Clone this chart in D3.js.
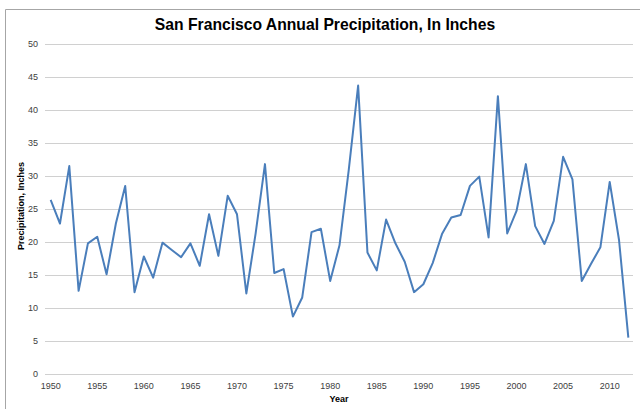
<!DOCTYPE html>
<html><head><meta charset="utf-8">
<script src="https://cdn.jsdelivr.net/npm/d3@7"></script>
<style>html,body{margin:0;padding:0;background:#fff;}svg{display:block;}</style>
</head><body>
<svg id="chart" width="640" height="409"></svg>
<script>
const years = d3.range(1950, 2013);
const precipitation = [
  26.4, 22.8, 31.5, 12.6, 19.8, 20.8, 15.1, 22.8, 28.5, 12.4,
  17.8, 14.6, 19.9, 18.8, 17.7, 19.8, 16.4, 24.2, 17.9, 27.0,
  24.2, 12.2, 21.3, 31.8, 15.3, 15.9, 8.7, 11.6, 21.5, 22.0,
  14.1, 19.5, 31.0, 43.7, 18.4, 15.7, 23.4, 19.8, 17.0, 12.4,
  13.6, 16.8, 21.2, 23.7, 24.1, 28.5, 29.9, 20.7, 42.1, 21.3,
  24.7, 31.8, 22.4, 19.7, 23.2, 32.9, 29.5, 14.1, 16.7, 19.2,
  29.1, 20.3, 5.5
];
const yTicks = [0, 5, 10, 15, 20, 25, 30, 35, 40, 45, 50];
const xTickYears = [1950, 1955, 1960, 1965, 1970, 1975, 1980, 1985, 1990, 1995, 2000, 2005, 2010];
const titleText = "San Francisco Annual Precipitation, In Inches";
const yTitle = "Precipitation, Inches";
const xTitle = "Year";

const svg = d3.select("#chart");
const font = "'Liberation Sans', Arial, sans-serif";

// outer border (left and top visible)
svg.append("path").attr("d", "M5.5,409 V9.5 H640").attr("fill", "none")
  .attr("stroke", "#a6a6a6").attr("stroke-width", 1);

const x = d3.scalePoint().domain(years).range([46, 633]).padding(0.5);
const y = d3.scaleLinear().domain([0, 50]).range([374, 44]);

// gridlines
svg.append("g").selectAll("line").data(yTicks).join("line")
  .attr("x1", 45).attr("x2", 633)
  .attr("y1", d => Math.round(y(d)) + 0.5).attr("y2", d => Math.round(y(d)) + 0.5)
  .attr("stroke", "#d0d0d0").attr("stroke-width", 1);

// y tick labels
svg.append("g").selectAll("text").data(yTicks).join("text")
  .attr("x", 38).attr("y", d => y(d)).attr("dy", "0.35em")
  .attr("text-anchor", "end").attr("font-family", font).attr("font-size", 9)
  .attr("fill", "#404040").text(d => d);

// x tick labels
svg.append("g").selectAll("text").data(xTickYears).join("text")
  .attr("x", d => x(d)).attr("y", 389)
  .attr("text-anchor", "middle").attr("font-family", font).attr("font-size", 9)
  .attr("fill", "#404040").text(d => d);

// line
const line = d3.line().x((d, i) => x(years[i])).y(d => y(d));
svg.append("path").datum(precipitation).attr("d", line)
  .attr("fill", "none").attr("stroke", "#4a7ebb").attr("stroke-width", 2)
  .attr("stroke-linejoin", "round");

// title
svg.append("text").attr("x", 325).attr("y", 30).attr("text-anchor", "middle")
  .attr("font-family", font).attr("font-weight", "bold").attr("font-size", 15.7)
  .attr("fill", "#000").text(titleText);

// axis titles
svg.append("text").attr("x", 339).attr("y", 402).attr("text-anchor", "middle")
  .attr("font-family", font).attr("font-weight", "bold").attr("font-size", 9)
  .attr("fill", "#000").text(xTitle);
svg.append("text").attr("transform", "translate(24,206) rotate(-90)")
  .attr("text-anchor", "middle").attr("font-family", font).attr("font-weight", "bold")
  .attr("font-size", 9).attr("fill", "#000").text(yTitle);
</script>
</body></html>
